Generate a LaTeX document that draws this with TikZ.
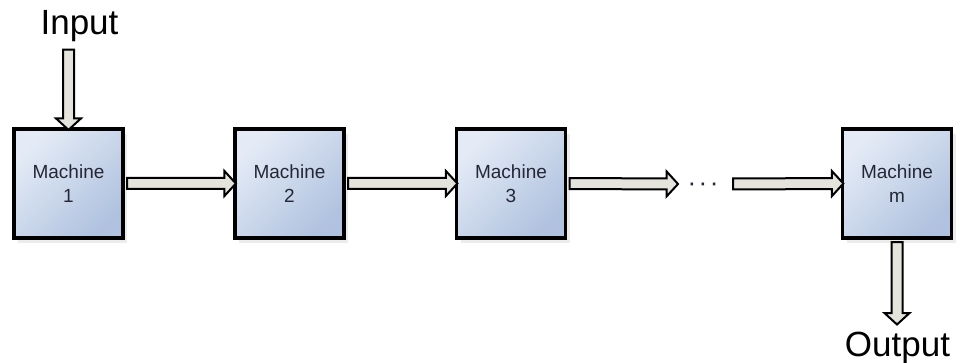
\documentclass[tikz,border=0pt]{standalone}
\usepackage{fontspec}
\setmainfont{Liberation Sans}
\usetikzlibrary{calc,shapes.arrows,shadows}

\definecolor{boxtop}{RGB}{228,235,246}
\definecolor{boxbot}{RGB}{176,194,223}
\definecolor{boxtext}{RGB}{36,40,54}
\definecolor{pipefill}{RGB}{228,228,220}

\tikzset{
  machine/.style={draw, line width=3.3pt, minimum size=109pt, inner sep=0pt,
    top color=boxtop, bottom color=boxbot, shading angle=45,
    drop shadow={shadow xshift=4pt, shadow yshift=-5pt, opacity=.15},
    align=center, text=boxtext, font=\fontsize{19}{24}\selectfont},
  blockarrow/.style={single arrow, draw, line width=2pt, fill=pipefill,
    inner xsep=0pt, inner ysep=4.5pt, outer sep=0pt,
    single arrow head extend=7pt, single arrow tip angle=95},
  % hollow block arrow laid between the two ends of a "to"
  flow/.style={to path={let \p1=(\tikztostart), \p2=(\tikztotarget) in
    ($(\p1)!.5!(\p2)$) node[blockarrow,
      minimum height={veclen(\x2-\x1,\y2-\y1)},
      rotate={atan2(\y2-\y1,\x2-\x1)}] {}}},
  endlabel/.style={font=\fontsize{35}{38}\selectfont, anchor=base}
}

\begin{document}
\begin{tikzpicture}[x=1pt,y=-1pt]
  \useasboundingbox (0,0) rectangle (960,363);

  % the line of machines
  \node[machine] (m1) at (68.5,183.5) {Machine\\1};
  \node[machine] (m2) at (289.5,183.5) {Machine\\2};
  \node[machine] (m3) at (511,183.5) {Machine\\3};
  \node[machine] (mm) at (897,183.5) {Machine\\m};
  % dots sit on the arrow line
  \node[minimum width=55pt, outer sep=0pt, text=boxtext,
    text height=0pt, text depth=0pt,
    font=\fontsize{26}{28}\selectfont] (dots) at (703,184)
    {\raisebox{-8pt}{·\kern2.5pt·\kern2.5pt·}};

  % in and out
  \node[endlabel] (input) at (79.5,35) {Input};
  \node[endlabel] (output) at (897.5,356) {Output};
  \coordinate (in) at (68.5,47);
  \coordinate (out) at (897,322);

  \draw[flow] (in) to (m1.north);
  \draw[flow] (m1.east) to (m2.west);
  \draw[flow] (m2.east) to (m3.west);
  \draw[flow] (m3.east) to (dots.west);
  \draw[flow] (dots.east) to (mm.west);
  \draw[flow] (mm.south) to (out);
\end{tikzpicture}
\end{document}
